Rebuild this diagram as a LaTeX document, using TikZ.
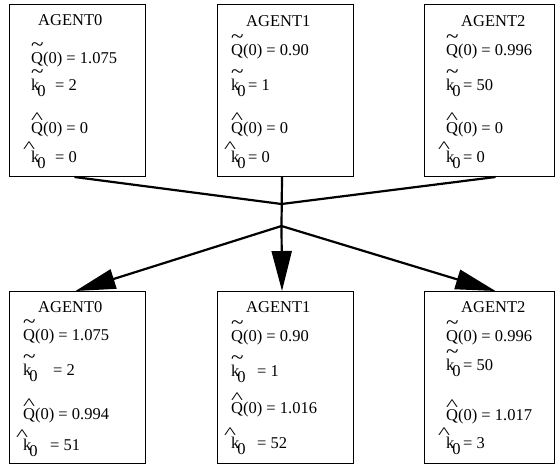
\documentclass[tikz,border=0pt]{standalone}
\usepackage{fontspec}
\setmainfont{Liberation Serif}
\usepackage{graphicx}
\usetikzlibrary{arrows.meta}

% accents drawn above the following letter
\newcommand\tildeover{\rlap{\raisebox{11.5pt}{\scalebox{1.4}[1.3]{\textasciitilde}}}}
\newcommand\hatover[1][0pt]{\rlap{\kern#1\raisebox{9.5pt}{\scalebox{1.55}[1]{\textasciicircum}}}}
\newcommand\kzero{k\kern-2pt\raisebox{-6pt}{0}}

\begin{document}
\begin{tikzpicture}[x=1pt,y=-1pt,
  agentbox/.style={draw,line width=1pt,minimum width=136pt,minimum height=172pt,
    anchor=north west,inner sep=0pt},
  agentboxn/.style={agentbox,minimum width=130pt},
  txt/.style={anchor=base west,inner sep=0pt,font=\fontsize{16.5}{20}\selectfont},
  wire/.style={line width=2.2pt},
  arrowwire/.style={wire,-{Triangle[length=40pt,width=20pt]}}]
\useasboundingbox (0,0) rectangle (556,464);

% ---- agents before the exchange ----
\node[agentbox]  (t0) at (9,4) {};
\node[agentbox]  (t1) at (217,4) {};
\node[agentboxn] (t2) at (424,4) {};

\node[txt] (t0n) at (38,25) {AGENT0};
\node[txt] (t0a) at (31,63) {\tildeover Q(0) = 1.075};
\node[txt] (t0b) at (31,90) {\tildeover\kzero};
\node[txt] (t0bv) at (55,90) {= 2};
\node[txt] (t0c) at (31,133) {\hatover Q(0) = 0};
\node[txt] (t0d) at (31,162) {\hatover[-8pt]\kzero};
\node[txt] (t0dv) at (55,162) {= 0};

\node[txt] (t1n) at (246,26) {AGENT1};
\node[txt] (t1a) at (231,55) {\tildeover Q(0) = 0.90};
\node[txt] (t1b) at (231,90) {\tildeover\kzero};
\node[txt] (t1bv) at (248,90) {= 1};
\node[txt] (t1c) at (231,133) {\hatover Q(0) = 0};
\node[txt] (t1d) at (231,162) {\hatover[-7pt]\kzero};
\node[txt] (t1dv) at (248,162) {= 0};

\node[txt] (t2n) at (461,26) {AGENT2};
\node[txt] (t2a) at (446,55) {\tildeover Q(0) = 0.996};
\node[txt] (t2b) at (446,90) {\tildeover\kzero};
\node[txt] (t2bv) at (463,90) {= 50};
\node[txt] (t2c) at (446,133) {\hatover Q(0) = 0};
\node[txt] (t2d) at (446,162) {\hatover[-8pt]\kzero};
\node[txt] (t2dv) at (463,162) {= 0};

% ---- agents after the exchange ----
\node[agentbox]  (b0) at (9,291) {};
\node[agentbox]  (b1) at (217,291) {};
\node[agentboxn] (b2) at (424,291) {};

\node[txt] (b0n) at (38,312) {AGENT0};
\node[txt] (b0a) at (23,340) {\tildeover Q(0) = 1.075};
\node[txt] (b0b) at (23,375) {\tildeover\kzero};
\node[txt] (b0bv) at (53,375) {= 2};
\node[txt] (b0c) at (23,419) {\hatover Q(0) = 0.994};
\node[txt] (b0d) at (23,450) {\hatover[-7pt]\kzero};
\node[txt] (b0dv) at (50,450) {= 51};

\node[txt] (b1n) at (246,312) {AGENT1};
\node[txt] (b1a) at (231,341) {\tildeover Q(0) = 0.90};
\node[txt] (b1b) at (231,376) {\tildeover\kzero};
\node[txt] (b1bv) at (257,376) {= 1};
\node[txt] (b1c) at (231,413) {\hatover Q(0) = 1.016};
\node[txt] (b1d) at (231,448) {\hatover[-7pt]\kzero};
\node[txt] (b1dv) at (257,448) {= 52};

\node[txt] (b2n) at (461,312) {AGENT2};
\node[txt] (b2a) at (446,341) {\tildeover Q(0) = 0.996};
\node[txt] (b2b) at (446,370) {\tildeover\kzero};
\node[txt] (b2bv) at (463,370) {= 50};
\node[txt] (b2c) at (446,420) {\hatover Q(0) = 1.017};
\node[txt] (b2d) at (446,448) {\hatover[-8pt]\kzero};
\node[txt] (b2dv) at (463,448) {= 3};

% ---- connectors ----
\coordinate (j1) at (281.5,204);
\coordinate (j2) at (281.5,226);
\draw[wire] ([xshift=-3pt]t0.south) -- (j1) -- ([xshift=6pt]t2.south);
\draw[wire] ([xshift=-3.5pt]t1.south) -- (j2);
\draw[arrowwire] (j2) -- ([xshift=-2pt]b0.north);
\draw[arrowwire] (j2) -- ([xshift=-3.5pt]b1.north);
\draw[arrowwire] (j2) -- ([xshift=6pt]b2.north);
\end{tikzpicture}
\end{document}
